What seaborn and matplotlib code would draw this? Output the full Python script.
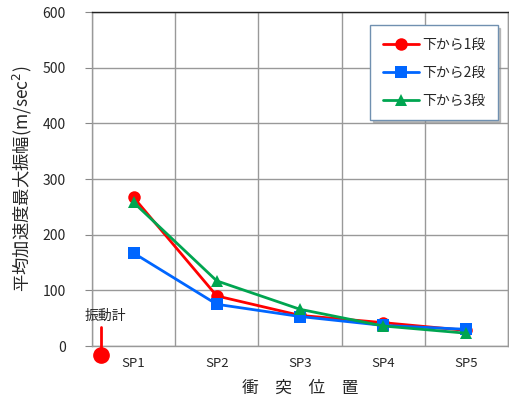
import pandas as pd
import numpy as np
import matplotlib.pyplot as plt
import seaborn as sns

# impact positions and mean max acceleration amplitude per level
positions = ['SP1', 'SP2', 'SP3', 'SP4', 'SP5']
level1 = [267, 90, 55, 42, 28]
level2 = [167, 75, 53, 37, 30]
level3 = [258, 117, 66, 36, 23]
series_names = ['下から1段', '下から2段', '下から3段']

sns.set_style('white')
plt.rcParams['font.family'] = ['Noto Sans CJK JP', 'DejaVu Sans']

df = pd.DataFrame({'pos': np.arange(len(positions)),
                   series_names[0]: level1,
                   series_names[1]: level2,
                   series_names[2]: level3})
long = df.melt(id_vars='pos', var_name='series', value_name='acc')

fig = plt.figure(figsize=(5.1, 4.03), dpi=100)
ax = fig.add_axes([0.1804, 0.1414, 0.8156, 0.8286])

colors = ['#ff0000', '#0066ff', '#00a550']
markers = ['o', 's', '^']
sns.lineplot(data=long, x='pos', y='acc', hue='series', style='series',
             palette=colors, markers=markers, dashes=False, markersize=9,
             markeredgewidth=0, linewidth=2, ax=ax, clip_on=False)

ax.set_xlim(-0.5, 4.5)
ax.set_ylim(0, 600)
ax.set_yticks(range(0, 601, 100))
ax.set_xticks(np.arange(-0.5, 5, 1), minor=False)
ax.set_xticklabels([])
ax.set_xticks(np.arange(len(positions)), minor=True)
ax.set_xticklabels(positions, minor=True, fontsize=9.5)
ax.tick_params(axis='x', which='both', length=0, pad=8)
ax.tick_params(axis='y', length=5, labelsize=10, pad=14, color='#888888', direction='out', left=True)
ax.grid(True, which='major', color='#999999', linewidth=1)
for s in ['left', 'bottom', 'right']:
    ax.spines[s].set_color('#999999')
ax.spines['top'].set_color('#222222')
for s in ax.spines.values():
    s.set_linewidth(1)

ax.set_ylabel('平均加速度最大振幅(m/sec$^2$)', fontsize=12.5, labelpad=6)
ax.set_xlabel('衝　突　位　置', fontsize=12, labelpad=7)

leg = ax.legend(loc='upper right', bbox_to_anchor=(0.975, 0.96), fontsize=10,
                frameon=True, fancybox=False,
                shadow={'ox': 1.5, 'oy': -1.5, 'color': '#888888', 'alpha': 0.5},
                borderpad=0.9, labelspacing=1.0, handlelength=2.6,
                handletextpad=0.2, edgecolor='#7090b0', borderaxespad=0)
leg.set_title(None)

# sensor marker below the axis
ax.plot([-0.39, -0.39], [-16, 34], color='#ff0000', linewidth=2, clip_on=False, zorder=5)
ax.plot(-0.39, -16, 'o', color='#ff0000', markersize=11, clip_on=False, zorder=5)
ax.text(-0.34, 41, '振動計', fontsize=10, ha='center', va='bottom')

plt.savefig('out.png', dpi=100)
